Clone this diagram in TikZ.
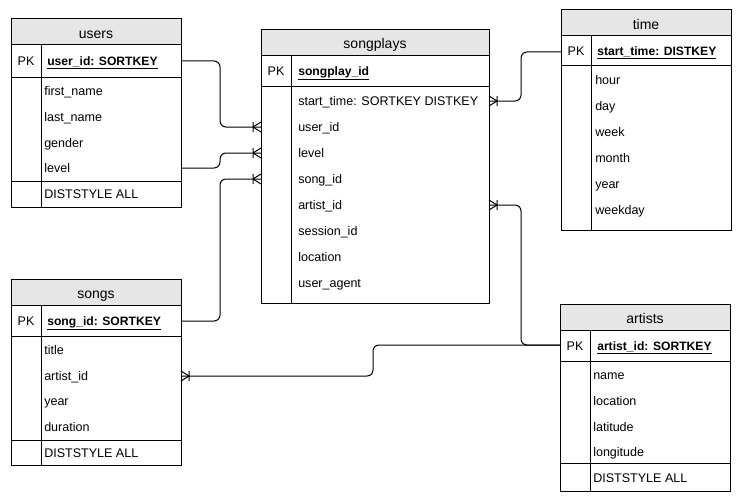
\documentclass[tikz,border=0pt]{standalone}
\usepackage{fontspec}
\setmainfont{Liberation Sans}
\usetikzlibrary{calc}
\definecolor{hdrgray}{HTML}{E6E6E6}
\tikzset{
  tbl/.style={draw, line width=0.75pt},
  hdr/.style={font=\fontsize{10.5}{12}\selectfont, inner sep=0pt, anchor=base},
  fld/.style={font=\fontsize{9.4}{11}\selectfont, anchor=west, inner sep=0pt, text height=7.6pt, text depth=1.4pt},
  pkf/.style={fld, font=\fontsize{9.1}{11}\selectfont\bfseries},
  pklbl/.style={font=\fontsize{9.4}{11}\selectfont, inner sep=0pt, text height=7.6pt, text depth=1.4pt},
  conn/.style={line width=0.75pt, rounded corners=4.5pt},
  pics/crowW/.style={code={
    \draw[line width=0.75pt] (-8,0) -- (0,-5) (-8,0) -- (0,5) (-8,-5) -- (-8,5);}},
  pics/crowE/.style={code={
    \draw[line width=0.75pt] (8,0) -- (0,-5) (8,0) -- (0,5) (8,-5) -- (8,5);}},
}
\begin{document}
\begin{tikzpicture}[x=0.75pt,y=-0.75pt]
\useasboundingbox[fill=white] (0,0) rectangle (741,503);

% ---------- users ----------
\fill[hdrgray] (11,19) rectangle (181,45);
\draw[tbl] (11,19) rectangle (181,207);
\draw[tbl] (11,45) -- (181,45) (11,77) -- (181,77) (11,181) -- (181,181) (41,45) -- (41,207);
\node[hdr] (users) at (96,38.5) {users};
\node[pklbl] (users-pkl) at (26,61) {PK};
\node[pkf] (users-pk) at (47,61) {\underline{user\_id: SORTKEY}};
\node[fld] (users-f1) at (44,91) {first\_name};
\node[fld] (users-f2) at (44,117) {last\_name};
\node[fld] (users-f3) at (44,143) {gender};
\node[fld] (users-f4) at (44,168) {level};
\node[fld] (users-ds) at (44,194) {DISTSTYLE ALL};
\coordinate (u-pk) at (181,61);
\coordinate (u-level) at (181,168);

% ---------- songplays ----------
\fill[hdrgray] (261,30) rectangle (489,56);
\draw[tbl] (261,30) rectangle (489,303);
\draw[tbl] (261,56) -- (489,56) (261,86) -- (489,86) (291,56) -- (291,303);
\node[hdr] (songplays) at (375,49) {songplays};
\node[pklbl] (sp-pkl) at (276,71) {PK};
\node[pkf] (sp-pk) at (298,71) {\underline{songplay\_id}};
\node[fld] (sp-f1) at (298,101) {start\_time: SORTKEY DISTKEY};
\node[fld] (sp-f2) at (298,127) {user\_id};
\node[fld] (sp-f3) at (298,153) {level};
\node[fld] (sp-f4) at (298,179) {song\_id};
\node[fld] (sp-f5) at (298,205) {artist\_id};
\node[fld] (sp-f6) at (298,231) {session\_id};
\node[fld] (sp-f7) at (298,257) {location};
\node[fld] (sp-f8) at (298,283) {user\_agent};
\coordinate (sp-start) at (489,101);
\coordinate (sp-user) at (261,127);
\coordinate (sp-level) at (261,153);
\coordinate (sp-song) at (261,179);
\coordinate (sp-artist) at (489,205);

% ---------- time ----------
\fill[hdrgray] (561,10) rectangle (731,36);
\draw[tbl] (561,10) rectangle (731,230);
\draw[tbl] (561,36) -- (731,36) (561,66) -- (731,66) (591,36) -- (591,230);
\node[hdr] (time) at (646,29.5) {time};
\node[pklbl] (t-pkl) at (576,51) {PK};
\node[pkf] (t-pk) at (597,51) {\underline{start\_time: DISTKEY}};
\node[fld] (t-f1) at (595,80) {hour};
\node[fld] (t-f2) at (595,106) {day};
\node[fld] (t-f3) at (595,132) {week};
\node[fld] (t-f4) at (595,158) {month};
\node[fld] (t-f5) at (595,184) {year};
\node[fld] (t-f6) at (595,210) {weekday};
\coordinate (t-pkw) at (561,52);

% ---------- songs ----------
\fill[hdrgray] (11,279) rectangle (181,305);
\draw[tbl] (11,279) rectangle (181,465);
\draw[tbl] (11,305) -- (181,305) (11,336) -- (181,336) (11,440) -- (181,440) (41,305) -- (41,465);
\node[hdr] (songs) at (96,298.5) {songs};
\node[pklbl] (s-pkl) at (26,321) {PK};
\node[pkf] (s-pk) at (47,321) {\underline{song\_id: SORTKEY}};
\node[fld] (s-f1) at (44,350) {title};
\node[fld] (s-f2) at (44,376) {artist\_id};
\node[fld] (s-f3) at (44,401) {year};
\node[fld] (s-f4) at (44,427) {duration};
\node[fld] (s-ds) at (44,453) {DISTSTYLE ALL};
\coordinate (s-pke) at (181,321);
\coordinate (s-artist) at (181,376);

% ---------- artists ----------
\fill[hdrgray] (560,304) rectangle (730,330);
\draw[tbl] (560,304) rectangle (730,491);
\draw[tbl] (560,330) -- (730,330) (560,361) -- (730,361) (560,463) -- (730,463) (590,330) -- (590,491);
\node[hdr] (artists) at (645,323.5) {artists};
\node[pklbl] (a-pkl) at (575,346) {PK};
\node[pkf] (a-pk) at (597,346) {\underline{artist\_id: SORTKEY}};
\node[fld] (a-f1) at (593,375) {name};
\node[fld] (a-f2) at (593,401) {location};
\node[fld] (a-f3) at (593,427) {latitude};
\node[fld] (a-f4) at (593,452) {longitude};
\node[fld] (a-ds) at (593,478) {DISTSTYLE ALL};
\coordinate (a-pkw) at (560,345);

% ---------- connectors ----------
\draw[conn] (u-pk) -- (220,61) -- (220,127) -- (sp-user);
\draw[conn] (u-level) -- (220,168) -- (220,153) -- (sp-level);
\draw[conn] (s-pke) -- (220,321) -- (220,179) -- (sp-song);
\draw[conn] (sp-start) -- (521,101) -- (521,52) -- (t-pkw);
\draw[conn] (sp-artist) -- (521,205) -- (521,345) -- (a-pkw);
\draw[conn] (a-pkw) -- (373,345) -- (373,376) -- (s-artist);

\pic at (sp-user) {crowW};
\pic at (sp-level) {crowW};
\pic at (sp-song) {crowW};
\pic at (sp-start) {crowE};
\pic at (sp-artist) {crowE};
\pic at (s-artist) {crowE};
\end{tikzpicture}
\end{document}
